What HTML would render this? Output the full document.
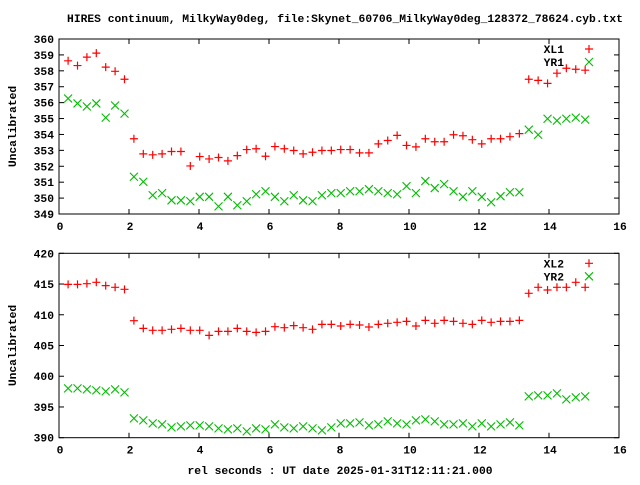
<!DOCTYPE html>
<html><head><meta charset="utf-8"><style>
body{margin:0;background:#fff;width:640px;height:480px;overflow:hidden}
svg text{font-family:"Liberation Mono",monospace;font-size:11.3px;font-weight:bold;fill:#000}
</style></head><body>
<svg id="chart" width="640" height="480" xmlns="http://www.w3.org/2000/svg">
<rect width="640" height="480" fill="#fff"/>
<text x="345" y="22" text-anchor="middle">HIRES continuum, MilkyWay0deg, file:Skynet_60706_MilkyWay0deg_128372_78624.cyb.txt</text>
<text x="340" y="474" text-anchor="middle">rel seconds : UT date 2025-01-31T12:11:21.000</text>
<g id="g"></g>
</svg>
<script>
const xStart=0.26, xStep=0.2686;
const xl1=[358.63,358.33,358.86,359.11,358.23,357.97,357.47,353.73,352.78,352.72,352.78,352.93,352.93,352.02,352.61,352.46,352.55,352.34,352.67,353.05,353.10,352.63,353.24,353.10,352.99,352.78,352.88,352.99,352.99,
353.05,353.05,352.84,352.84,353.41,353.62,353.94,353.31,353.22,353.73,353.54,353.54,353.98,353.92,353.67,353.41,353.73,353.73,353.86,354.05,357.47,357.40,357.21,357.85,358.16,358.10,358.04];
const yr1=[356.26,355.95,355.76,355.95,355.06,355.82,355.31,351.34,351.03,350.18,350.31,349.86,349.86,349.80,350.08,350.08,349.48,350.08,349.55,349.80,350.24,350.43,350.08,349.80,350.18,349.86,349.80,350.18,350.31,
350.31,350.43,350.43,350.56,350.43,350.31,350.24,350.75,350.31,351.07,350.63,350.88,350.43,350.08,350.43,350.08,349.74,350.12,350.37,350.37,354.30,353.98,354.99,354.87,354.99,355.06,354.93];
const xl2=[414.95,414.95,415.06,415.28,414.74,414.47,414.14,409.04,407.79,407.47,407.47,407.63,407.79,407.47,407.47,406.65,407.30,407.30,407.79,407.30,407.14,407.30,408.06,407.90,408.23,407.90,407.63,408.44,408.44,
408.17,408.44,408.33,408.01,408.44,408.61,408.77,408.93,408.17,409.09,408.61,409.09,408.93,408.61,408.44,409.09,408.77,408.93,408.93,409.09,413.49,414.47,414.03,414.47,414.47,415.28,414.47];
const yr2=[398.03,398.03,397.86,397.70,397.54,397.86,397.37,393.14,392.82,392.33,392.16,391.68,391.84,392.00,392.00,391.84,391.51,391.35,391.51,391.03,391.51,391.35,392.16,391.68,391.51,391.84,391.51,391.19,391.68,
392.33,392.33,392.49,392.00,392.16,392.65,392.33,392.16,392.82,392.98,392.65,392.16,392.16,392.33,391.84,392.33,391.84,392.16,392.49,392.00,396.72,396.89,396.89,397.21,396.23,396.56,396.72];
const xTicks=[0,2,4,6,8,10,12,14,16];
const yTicks1=[349,350,351,352,353,354,355,356,357,358,359,360];
const yTicks2=[390,395,400,405,410,415,420];
const NS="http://www.w3.org/2000/svg";
const g=document.getElementById('g');
function mk(t,a,p){const e=document.createElementNS(NS,t);for(const k in a)e.setAttribute(k,a[k]);(p||g).appendChild(e);return e;}
function panel(top,bot,ymin,ymax,yTicks,s1,s2,n1,n2,pname){
  const L=59,R=619;
  const sx=v=>L+(v-0)/(16-0)*(R-L);
  const sy=v=>bot-(v-ymin)/(ymax-ymin)*(bot-top);
  const pg=mk('g',{});
  
  
  mk('rect',{x:L,y:top,width:R-L,height:bot-top,fill:'none',stroke:'#000','stroke-width':1},pg);
  xTicks.forEach(t=>{const x=sx(t);
    mk('line',{x1:x,y1:bot,x2:x,y2:bot-5,stroke:'#000'},pg);
    mk('line',{x1:x,y1:top,x2:x,y2:top+5,stroke:'#000'},pg);
    const tx=mk('text',{x:x+1,y:bot+16,'text-anchor':'middle'},pg);tx.textContent=t;
    
    });
  yTicks.forEach(t=>{const y=sy(t);
    mk('line',{x1:L,y1:y,x2:L+5,y2:y,stroke:'#000'},pg);
    mk('line',{x1:R,y1:y,x2:R-5,y2:y,stroke:'#000'},pg);
    const tx=mk('text',{x:L-5,y:y+4,'text-anchor':'end'},pg);tx.textContent=t;
    
    });
  const yl=mk('text',{x:16,y:(top+bot)/2,'text-anchor':'middle',transform:`rotate(-90 16 ${(top+bot)/2})`},pg);
  yl.textContent='Uncalibrated';
  
  
  function plus(x,y,c){mk('path',{d:`M${x-4} ${y}H${x+4}M${x} ${y-4}V${y+4}`,stroke:c,'stroke-width':1.2,fill:'none'},pg);}
  function cross(x,y,c){mk('path',{d:`M${x-4} ${y-4}L${x+4} ${y+4}M${x-4} ${y+4}L${x+4} ${y-4}`,stroke:c,'stroke-width':1.1,fill:'none'},pg);}
  s1.forEach((v,i)=>plus(sx(xStart+i*xStep),sy(v),'#f00'));
  s2.forEach((v,i)=>cross(sx(xStart+i*xStep),sy(v),'#0b0'));
  const l1=mk('text',{x:564,y:top+14,'text-anchor':'end'},pg);l1.textContent=n1;
  
  
  plus(589,top+10,'#f00');
  const l2=mk('text',{x:564,y:top+27,'text-anchor':'end'},pg);l2.textContent=n2;
  
  
  cross(589,top+23,'#0b0');
}
panel(39,214,349,360,yTicks1,xl1,yr1,'XL1','YR1','top-panel');
panel(253.3,437.7,390,420,yTicks2,xl2,yr2,'XL2','YR2','bottom-panel');
</script>
</body></html>
